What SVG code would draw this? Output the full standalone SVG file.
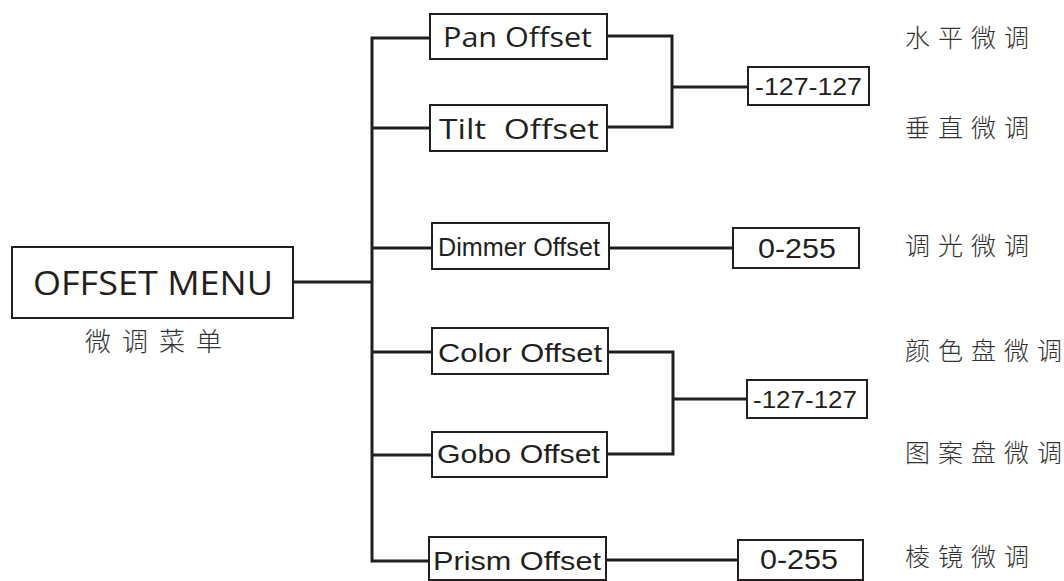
<svg xmlns="http://www.w3.org/2000/svg" width="1064" height="581" viewBox="0 0 1064 581">
<style>
.box{fill:#fff;stroke:#231f20;stroke-width:2}
.con{fill:none;stroke:#231f20;stroke-width:3;stroke-linecap:square;stroke-linejoin:miter}
.my{font-family:"Open Sans","Noto Sans","Liberation Sans",sans-serif;fill:#231f20}
.ar{font-family:"Liberation Sans",Arial,sans-serif;fill:#231f20}
.cn{font-family:"Noto Sans CJK SC","Noto Sans",sans-serif;font-weight:300;fill:#333;font-size:25px}
</style>
<g id="connectors">
<path class="con" d="M293,282 H372 M372,38 V561 M372,38 H430 M372,128 H430 M372,248 H432 M372,352 H432 M372,455 H432 M372,561 H429"/>
<path class="con" d="M607,36 H672 V127 H607 M672,87 H748"/>
<path class="con" d="M608,352 H673 V454 H607 M673,399 H747"/>
<path class="con" d="M609,248 H733 M606,560 H738"/>
</g>
<g id="offset-menu">
<rect class="box" x="12" y="247" width="281" height="71"/>
<text class="my" x="33" y="295" font-size="32" textLength="240" lengthAdjust="spacingAndGlyphs">OFFSET MENU</text>
<text class="cn" x="85 122 159 196" y="351" style="font-size:26px">微调菜单</text>
</g>
<g id="pan-offset">
<rect class="box" x="430" y="14" width="177" height="45"/>
<text class="my" x="443" y="47" font-size="27" textLength="149" lengthAdjust="spacingAndGlyphs">Pan Offset</text>
</g>
<g id="tilt-offset">
<rect class="box" x="430" y="105" width="177" height="46"/>
<text class="my" x="439" y="139" font-size="27" textLength="160" lengthAdjust="spacingAndGlyphs" style="white-space:pre">Tilt  Offset</text>
</g>
<g id="range-pan-tilt">
<rect class="box" x="748" y="67" width="121" height="38"/>
<text class="ar" x="755" y="95" font-size="23" textLength="107" lengthAdjust="spacingAndGlyphs">-127-127</text>
</g>
<g id="dimmer-offset">
<rect class="box" x="432" y="223" width="177" height="46"/>
<text class="ar" x="438" y="256" font-size="25" textLength="162" lengthAdjust="spacingAndGlyphs">Dimmer Offset</text>
</g>
<g id="range-dimmer">
<rect class="box" x="733" y="228" width="126" height="40"/>
<text class="ar" x="758" y="258" font-size="28" textLength="78" lengthAdjust="spacingAndGlyphs">0-255</text>
</g>
<g id="color-offset">
<rect class="box" x="432" y="328" width="176" height="46"/>
<text class="ar" x="438" y="362" font-size="26" textLength="164" lengthAdjust="spacingAndGlyphs">Color Offset</text>
</g>
<g id="gobo-offset">
<rect class="box" x="432" y="432" width="175" height="45"/>
<text class="ar" x="437" y="463" font-size="26" textLength="163" lengthAdjust="spacingAndGlyphs">Gobo Offset</text>
</g>
<g id="range-color-gobo">
<rect class="box" x="747" y="380" width="120" height="38"/>
<text class="ar" x="753" y="408" font-size="23" textLength="104" lengthAdjust="spacingAndGlyphs">-127-127</text>
</g>
<g id="prism-offset">
<rect class="box" x="429" y="537" width="177" height="43"/>
<text class="ar" x="433" y="570" font-size="26" textLength="168" lengthAdjust="spacingAndGlyphs">Prism Offset</text>
</g>
<g id="range-prism">
<rect class="box" x="738" y="540" width="125" height="40"/>
<text class="ar" x="760" y="569" font-size="28" textLength="78" lengthAdjust="spacingAndGlyphs">0-255</text>
</g>
<g id="labels">
<text class="cn" x="905 938 971 1004" y="47">水平微调</text>
<text class="cn" x="905 938 971 1004" y="137">垂直微调</text>
<text class="cn" x="905 938 971 1004" y="255">调光微调</text>
<text class="cn" x="905 938 971 1004 1037" y="360">颜色盘微调</text>
<text class="cn" x="905 938 971 1004 1037" y="462">图案盘微调</text>
<text class="cn" x="905 938 971 1004" y="566">棱镜微调</text>
</g>
</svg>
